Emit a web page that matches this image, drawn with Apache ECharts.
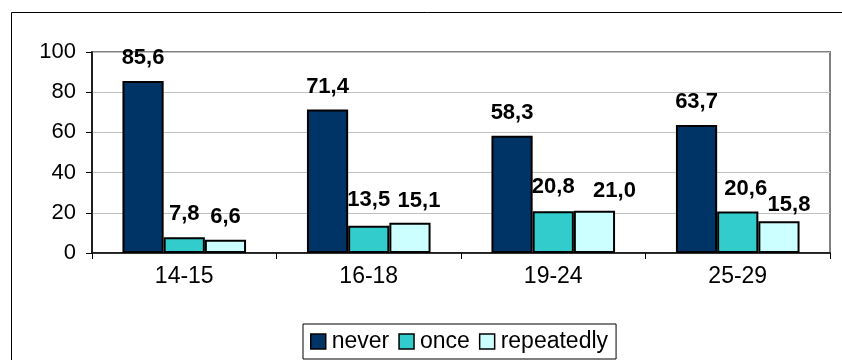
<!DOCTYPE html>
<html>
<head>
<meta charset="utf-8">
<script src="https://cdn.jsdelivr.net/npm/echarts@6/dist/echarts.min.js"></script>
<style>
  html, body { margin: 0; padding: 0; background: #ffffff; }
  #chart { width: 842px; height: 360px; }
</style>
</head>
<body>
<div id="chart"></div>
<script>
// Age groups and the share of answers per group
var categories = ['14-15', '16-18', '19-24', '25-29'];
var never = [85.6, 71.4, 58.3, 63.7];
var once = [7.8, 13.5, 20.8, 20.6];
var repeatedly = [6.6, 15.1, 21.0, 15.8];
var yTicks = [0, 20, 40, 60, 80, 100];

var FONT = '"Liberation Sans", Arial, sans-serif';

function fmt(v) {
  return v.toFixed(1).replace('.', ',');
}

// labelShift: optional per-bar [dx, dy] nudges for crowded value labels
function barSeries(name, values, color, labelShift) {
  return {
    name: name,
    type: 'bar',
    data: values.map(function (v, i) {
      var item = { value: v };
      if (labelShift && labelShift[i]) {
        item.label = { offset: labelShift[i] };
      }
      return item;
    }),
    barGap: '0%',
    barCategoryGap: '33%',
    itemStyle: { color: color, borderColor: '#000000', borderWidth: 2 },
    label: {
      show: true,
      position: 'top',
      distance: 12,
      color: '#000000',
      fontFamily: FONT,
      fontWeight: 'bold',
      fontSize: 22,
      formatter: function (p) { return fmt(p.value); }
    }
  };
}

var chart = echarts.init(document.getElementById('chart'), null, { renderer: 'canvas' });
chart.setOption({
  animation: false,
  backgroundColor: '#ffffff',
  graphic: [{
    type: 'rect',
    shape: { x: 11.5, y: 12.5, width: 900, height: 400 },
    style: { fill: 'none', stroke: '#000000', lineWidth: 1 },
    silent: true,
    z: -1
  }],
  grid: {
    left: 92, right: 12, top: 52, bottom: 107,
    show: true,
    borderColor: '#808080',
    borderWidth: 2,
    backgroundColor: 'transparent'
  },
  legend: {
    left: 303,
    top: 324,
    orient: 'horizontal',
    itemWidth: 15,
    itemHeight: 15,
    itemGap: 9,
    padding: [6, 8, 6, 7],
    borderColor: '#000000',
    borderWidth: 1,
    textStyle: { fontFamily: FONT, fontSize: 23, color: '#000000', padding: [0, 0, 0, 1] },
    itemStyle: { borderColor: '#000000', borderWidth: 1.5 },
    icon: 'rect',
    data: ['never', 'once', 'repeatedly']
  },
  xAxis: {
    type: 'category',
    data: categories,
    axisLine: { lineStyle: { color: '#000000', width: 1.5 } },
    axisTick: { show: true, length: 6, interval: 0, lineStyle: { color: '#000000' } },
    axisLabel: { fontFamily: FONT, fontSize: 23, color: '#000000', margin: 12 },
    splitLine: { show: false }
  },
  yAxis: {
    type: 'value',
    min: yTicks[0],
    max: yTicks[yTicks.length - 1],
    interval: 20,
    axisLine: { show: true, lineStyle: { color: '#000000', width: 1.5 } },
    axisTick: { show: true, length: 6, lineStyle: { color: '#000000' } },
    axisLabel: { fontFamily: FONT, fontSize: 22, color: '#000000', margin: 16 },
    splitLine: { show: true, lineStyle: { color: '#c0c0c0', width: 1 } }
  },
  series: [
    barSeries('never', never, '#003366'),
    barSeries('once', once, '#33CCCC', { 1: [0, -3], 2: [0, -1], 3: [8, 0] }),
    barSeries('repeatedly', repeatedly, '#CCFFFF', { 1: [9, 1], 2: [20, 3], 3: [10, 7] })
  ]
});
</script>
</body>
</html>
